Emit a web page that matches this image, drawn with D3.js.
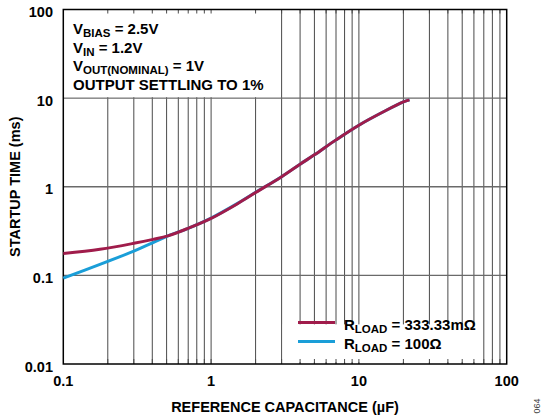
<!DOCTYPE html>
<html><head><meta charset="utf-8">
<script src="https://cdn.jsdelivr.net/npm/d3@7"></script>
<style>
body{margin:0;background:#fff}
svg{display:block}
text{font-family:"Liberation Sans",Arial,Helvetica,sans-serif;font-weight:bold;fill:#000}
</style>
</head><body>
<svg id="chart" width="542" height="419"></svg>
<script>
// ---- data ----
const capacitance = [0.1, 0.177, 0.3, 0.405, 0.51, 0.7, 1, 1.5, 2, 3, 4, 5, 7, 10, 15, 20, 22];
const timeRload333m = [0.177, 0.197, 0.230, 0.255, 0.279, 0.34, 0.44, 0.64, 0.86, 1.3, 1.8, 2.29, 3.38, 4.95, 7.15, 9.05, 9.55];
const timeRload100 = [0.093, 0.133, 0.188, 0.234, 0.279, 0.34, 0.443, 0.645, 0.865, 1.3, 1.8, 2.29, 3.38, 4.95, 7.15, 9.05, 9.55];
const xTickValues = [0.1, 1, 10, 100];
const xTickLabels = ["0.1", "1", "10", "100"];
const yTickValues = [0.01, 0.1, 1, 10, 100];
const yTickLabels = ["0.01", "0.1", "1", "10", "100"];
const xTitle = "REFERENCE CAPACITANCE (µF)";
const yTitle = "STARTUP TIME (ms)";
const annotationLines = [
  [["V", false], ["BIAS", true], [" = 2.5V", false]],
  [["V", false], ["IN", true], [" = 1.2V", false]],
  [["V", false], ["OUT(NOMINAL)", true], [" = 1V", false]],
  [["OUTPUT SETTLING TO 1%", false]]
];
const seriesNames = [
  [["R", false], ["LOAD", true], [" = 333.33mΩ", false]],
  [["R", false], ["LOAD", true], [" = 100Ω", false]]
];
const seriesColors = ["#A01C4B", "#1A9ED8"];
const figureId = "064";

// ---- layout ----
const svg = d3.select("#chart");
const L = 63.3, R = 506.7, T = 9.5, B = 364;
const x = d3.scaleLog().domain([0.1, 100]).range([L, R]);
const y = d3.scaleLog().domain([0.01, 100]).range([B, T]);

const xMinor = [];
[0.1, 1, 10].forEach(d => { for (let k = 1; k <= 9; k++) xMinor.push(+(d * k).toPrecision(3)); });
xMinor.push(100);

const grid = svg.append("g").attr("stroke", "#4a4a4a").attr("stroke-width", 1);
xMinor.filter(v => v > 0.1 && v < 100).forEach(v => {
  grid.append("line").attr("x1", x(v)).attr("x2", x(v)).attr("y1", T).attr("y2", B);
});
yTickValues.filter(v => v > 0.01 && v < 100).forEach(v => {
  grid.append("line").attr("x1", L).attr("x2", R).attr("y1", y(v)).attr("y2", y(v)).attr("stroke", "#6a6a6a").attr("stroke-width", 1.3);
});

// white boxes for annotation and legend
svg.append("rect").attr("x", L).attr("y", T).attr("width", x(2.95) - L).attr("height", y(10) - T - 1).attr("fill", "#fff");
svg.append("rect").attr("x", x(3.05)).attr("y", y(0.028)).attr("width", x(65) - x(3.05)).attr("height", y(0.0105) - y(0.028)).attr("fill", "#fff");

// inner ticks top & bottom
const tk = svg.append("g").attr("stroke", "#4a4a4a").attr("stroke-width", 1);
xMinor.filter(v => v > 0.1 && v < 100).forEach(v => {
  tk.append("line").attr("x1", x(v)).attr("x2", x(v)).attr("y1", T).attr("y2", T + 4);
  tk.append("line").attr("x1", x(v)).attr("x2", x(v)).attr("y1", B - 5).attr("y2", B);
});

// frame
svg.append("rect").attr("x", L).attr("y", T).attr("width", R - L).attr("height", B - T)
  .attr("fill", "none").attr("stroke", "#000").attr("stroke-width", 1.5);

// curves
const line = d3.line().x(d => x(d[0])).y(d => y(d[1])).curve(d3.curveCatmullRom.alpha(0.5));
const dataBlue = capacitance.map((c, i) => [c, timeRload100[i]]);
const dataRed = capacitance.map((c, i) => [c, timeRload333m[i]]);
svg.append("path").attr("d", line(dataBlue)).attr("fill", "none").attr("stroke", seriesColors[1]).attr("stroke-width", 3);
svg.append("path").attr("d", line(dataRed)).attr("fill", "none").attr("stroke", seriesColors[0]).attr("stroke-width", 3);

function rich(g, xx, yy, parts, size, subSize, shift) {
  const t = g.append("text").attr("x", xx).attr("y", yy).style("font-size", size + "px");
  let down = false;
  parts.forEach(([s, sub]) => {
    const sp = t.append("tspan").text(s);
    if (sub && !down) { sp.attr("dy", shift).style("font-size", subSize + "px"); down = true; }
    else if (!sub && down) { sp.attr("dy", -shift); down = false; }
  });
  return t;
}

const annY = [33.5, 52.5, 70.5, 90];
annotationLines.forEach((parts, i) => rich(svg, 73, annY[i], parts, 15, 11.5, 3.5));

const legY = [322.5, 341.5];
seriesNames.forEach((parts, i) => {
  svg.append("line").attr("x1", 298).attr("x2", 335).attr("y1", legY[i]).attr("y2", legY[i])
    .attr("stroke", seriesColors[i]).attr("stroke-width", 3);
  rich(svg, 344, legY[i] + 7, parts, 15, 11.5, 3.5);
});

xTickValues.forEach((v, i) => {
  svg.append("text").attr("x", x(v)).attr("y", 386).attr("text-anchor", "middle")
    .style("font-size", "14.5px").text(xTickLabels[i]);
});
yTickValues.forEach((v, i) => {
  svg.append("text").attr("x", 53).attr("y", y(v) + 7.5).attr("text-anchor", "end")
    .style("font-size", "14.5px").text(yTickLabels[i]);
});
svg.append("text").attr("x", 285).attr("y", 412).attr("text-anchor", "middle")
  .style("font-size", "14.5px").text(xTitle);
svg.append("text").attr("transform", `translate(20,${(T + B) / 2}) rotate(-90)`).attr("text-anchor", "middle")
  .style("font-size", "14.5px").text(yTitle);
svg.append("text").attr("transform", "translate(540,406) rotate(-90)").attr("text-anchor", "middle")
  .style("font-size", "9px").style("font-weight", "normal").style("fill", "#444").text(figureId);
</script>
</body></html>
